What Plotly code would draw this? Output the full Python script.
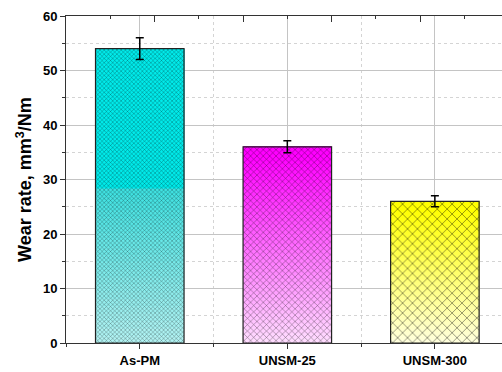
import numpy as np
import plotly.graph_objects as go

# Wear rate data
categories = ["As-PM", "UNSM-25", "UNSM-300"]
wear_rate = [54.0, 36.0, 26.0]
wear_err = [2.0, 1.1, 1.0]

# Fill styling per sample: (top colour, bottom colour, fraction of bar kept solid at top)
top_colors = [(0, 235, 235), (255, 0, 255), (255, 255, 0)]
bottom_colors = [(180, 243, 243), (255, 222, 255), (255, 255, 222)]
solid_fraction = [0.47, 0.05, 0.05]
hatch_size = [3, 4.5, 7]
hatch_solidity = [0.24, 0.2, 0.18]

FONT = "Arial, Liberation Sans, sans-serif"
N_SEG = 40
x_pos = np.arange(len(categories))
vals = np.array(wear_rate)


def seg_color(i, t):
    """Colour of bar i at relative height t (0 = bottom, 1 = top)."""
    sf = solid_fraction[i]
    if t >= 1 - sf:
        c = top_colors[i]
    else:
        u = t / (1 - sf)
        if i == 0:
            # slightly lighter start of the fade below the solid band
            start = (60, 225, 225)
            c = tuple(bottom_colors[i][k] + (start[k] - bottom_colors[i][k]) * u for k in range(3))
        else:
            c = tuple(bottom_colors[i][k] + (top_colors[i][k] - bottom_colors[i][k]) * u for k in range(3))
    return "rgb(%d,%d,%d)" % tuple(int(round(v)) for v in c)


fig = go.Figure()

# gradient fill: each slice runs from its base to the bar top, later slices cover earlier ones
for k in range(N_SEG):
    t = (k + 0.5) / N_SEG
    fig.add_trace(go.Bar(
        x=x_pos,
        y=vals * (N_SEG - k) / N_SEG,
        base=vals * k / N_SEG,
        width=0.6,
        marker=dict(color=[seg_color(i, t) for i in range(len(categories))], line=dict(width=0)),
        hoverinfo="skip",
        showlegend=False,
    ))

# cross hatching, outline and error bars
fig.add_trace(go.Bar(
    x=x_pos,
    y=vals,
    width=0.6,
    marker=dict(
        color="rgba(0,0,0,0)",
        line=dict(color="#222", width=1.2),
        pattern=dict(shape="x", size=hatch_size, solidity=hatch_solidity,
                     fgcolor="black", fgopacity=0.6, bgcolor="rgba(0,0,0,0)", fillmode="overlay"),
    ),
    error_y=dict(type="data", array=wear_err, color="black", thickness=1.5, width=4),
    showlegend=False,
))

axis_common = dict(showline=True, linecolor="#333", linewidth=1, mirror=False,
                   tickcolor="#333", zeroline=False)

fig.update_layout(
    width=502, height=372,
    margin=dict(l=66, r=0, t=16, b=29),
    paper_bgcolor="white", plot_bgcolor="white",
    barmode="overlay",
    font=dict(family=FONT, color="black"),
    xaxis=dict(
        **axis_common,
        range=[-0.5, 2.455],
        tickvals=list(x_pos), ticktext=["<b>%s</b>" % c for c in categories],
        tickfont=dict(size=13, family=FONT),
        ticks="outside", ticklen=5,
        showgrid=True, gridcolor="#c4c4c4", gridwidth=1,
        minor=dict(tickvals=[-0.5, 0.5, 1.5], ticks="outside", ticklen=3, tickcolor="#333",
                   showgrid=True, gridcolor="#d4d4d4", griddash="dot"),
    ),
    xaxis2=dict(
        overlaying="x", side="top", matches="x", showline=True, linecolor="#333", linewidth=1,
        tickvals=[0.1, 0.7, 1.3, 1.9], showticklabels=False, ticks="inside", ticklen=6,
        tickcolor="#333", showgrid=False, zeroline=False,
        minor=dict(tickvals=[-0.2, 0.4, 1.0, 1.6, 2.2], ticks="inside", ticklen=3, tickcolor="#333"),
    ),
    yaxis=dict(
        **axis_common,
        range=[0, 60], dtick=10,
        tickfont=dict(size=13, family=FONT),
        tickprefix="<b>", ticksuffix="</b>",
        ticks="outside", ticklen=5,
        showgrid=True, gridcolor="#c4c4c4", gridwidth=1,
        minor=dict(dtick=5, ticks="outside", ticklen=3, tickcolor="#333",
                   showgrid=True, gridcolor="#d4d4d4", griddash="dot"),
        title=dict(text="<b>Wear rate, mm<sup>3</sup>/Nm</b>", font=dict(size=18, family=FONT),
                   standoff=6),
    ),
)

# invisible trace to activate the top axis
fig.add_trace(go.Scatter(x=[0], y=[0], xaxis="x2", mode="markers",
                         marker=dict(opacity=0), hoverinfo="skip", showlegend=False))

fig.write_html("out.html")
